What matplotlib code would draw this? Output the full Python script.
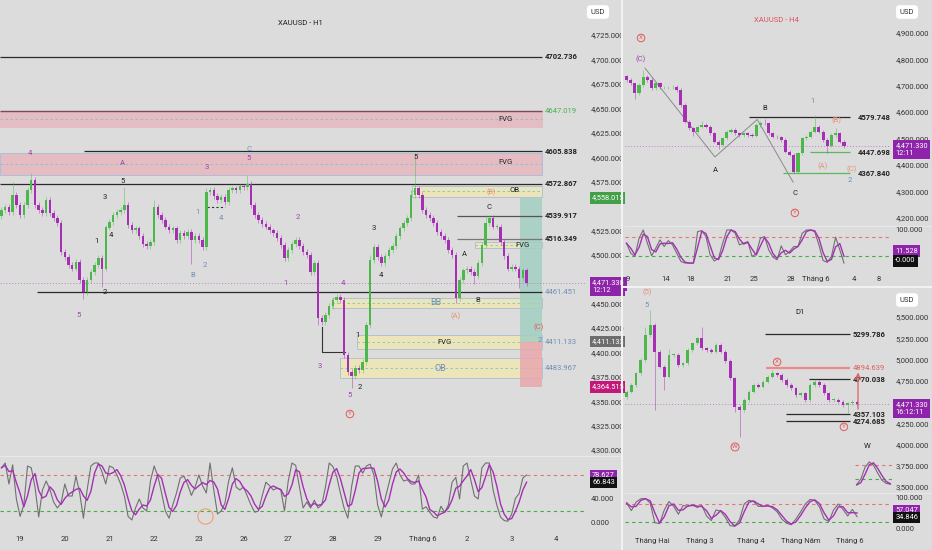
import numpy as np
import pandas as pd
import matplotlib
matplotlib.use("Agg")
import matplotlib.pyplot as plt
from matplotlib.lines import Line2D
from matplotlib.patches import Rectangle

plt.rcParams["font.family"] = ["Roboto", "DejaVu Sans"]

BG = "#dcdcdc"
UP = "#4cb84c"
DN = "#a42fb2"
PURP = "#8e24aa"
BLUEG = "#6f8fb5"
RED = "#e05a5a"
ORG = "#e8907a"

# ---------------- H1 data (2h steps) ----------------
h1_days = ["19", "20", "21", "22", "23", "26", "27", "28", "29", "Tháng 6", "2", "3", "4"]
h1_open0 = 4540
h1_close = [4546, 4549, 4544, 4561, 4551, 4541, 4551, 4566, 4577, 4551,
            4546, 4543, 4556, 4543, 4538, 4533, 4503, 4498, 4490, 4486,
            4493, 4474, 4462, 4474, 4482, 4490, 4497, 4486, 4528, 4534,
            4541, 4544, 4546, 4551, 4531, 4525, 4527, 4519, 4511, 4509,
            4513, 4549, 4541, 4536, 4529, 4525, 4527, 4515, 4522, 4519,
            4523, 4515, 4519, 4515, 4508, 4564, 4566, 4560, 4556, 4559,
            4554, 4566, 4568, 4566, 4570, 4569, 4573, 4551, 4541, 4536,
            4532, 4529, 4525, 4522, 4517, 4510, 4497, 4505, 4511, 4515,
            4509, 4503, 4500, 4482, 4492, 4435, 4431, 4438, 4448, 4454,
            4457, 4454, 4397, 4380, 4376, 4384, 4382, 4390, 4428, 4495,
            4508, 4498, 4492, 4499, 4505, 4509, 4519, 4527, 4533, 4538,
            4561, 4568, 4561, 4546, 4541, 4538, 4533, 4523, 4519, 4515,
            4505, 4500, 4456, 4474, 4484, 4486, 4482, 4478, 4492, 4510,
            4533, 4538, 4529, 4529, 4513, 4499, 4486, 4488, 4486, 4476,
            4484, 4471]
h1_high_marks = {3: 4575, 8: 4584, 33: 4569, 41: 4556, 55: 4568, 66: 4582,
                 99: 4500, 110: 4566, 111: 4604, 130: 4541}
h1_low_marks = {22: 4455, 27: 4467, 51: 4491, 85: 4428, 94: 4364, 122: 4451,
                127: 4470, 139: 4466}
h1_k = [92, 100, 65, 97, 40, 11, 30, 95, 92, 60,
        10, 55, 70, 56, 35, 25, 33, 65, 45, 45,
        78, 50, 8, 55, 95, 100, 100, 85, 65, 95,
        92, 80, 65, 45, 11, 5, 25, 40, 25, 20,
        70, 95, 78, 50, 20, 8, 30, 50, 75, 78,
        64, 46, 60, 80, 62, 50, 100, 55, 15, 20,
        33, 70, 92, 60, 55, 60, 45, 30, 18, 20,
        45, 68, 62, 55, 58, 55, 20, 70, 100, 96,
        60, 25, 35, 25, 38, 25, 30, 60, 100, 94,
        78, 50, 25, 8, 60, 95, 95, 83, 95, 98,
        80, 30, 10, 40, 65, 90, 100, 80, 70, 72,
        65, 65, 80, 23, 27, 18, 10, 8, 28, 18,
        30, 68, 76, 40, 95, 100, 72, 45, 40, 92,
        100, 100, 55, 30, 10, 4, 3, 15, 41, 49,
        75, 80]
h1_waves = [("5", 2.30, 4576, "#222"), ("3", 1.90, 4559, "#222"), ("1", 1.70, 4514, "#222"),
            ("4", 2.04, 4520, "#222"), ("2", 1.90, 4462, "#222"), ("5", 8.84, 4600, "#222"),
            ("3", 7.92, 4527, "#222"), ("4", 8.08, 4479, "#222"), ("1", 7.54, 4418, "#222"),
            ("2", 7.61, 4365, "#222"), ("A", 9.93, 4501, "#222"), ("B", 10.25, 4454, "#222"),
            ("C", 10.49, 4549, "#222"), ("2", 11.63, 4413, BLUEG),
            ("4", 0.22, 4604, "#a040b0"), ("A", 2.28, 4594, "#a040b0"), ("3", 4.18, 4590, "#a040b0"),
            ("5", 5.12, 4599, "#a040b0"), ("2", 6.22, 4539, "#a040b0"), ("1", 5.93, 4471, "#a040b0"),
            ("4", 7.23, 4471, "#a040b0"), ("3", 6.71, 4386, "#a040b0"), ("5", 7.38, 4356, "#a040b0"),
            ("5", 1.30, 4438, "#a040b0"),
            ("C", 5.12, 4608, BLUEG), ("1", 3.96, 4544, BLUEG), ("2", 4.14, 4490, BLUEG),
            ("B", 3.87, 4479, BLUEG), ("4", 4.50, 4538, BLUEG),
            ("(A)", 9.75, 4437, ORG), ("(C)", 11.61, 4426, RED)]

# ---------------- H4 data (8h steps) ----------------
h4_days = ["9", "14", "18", "21", "25", "28", "Tháng 6", "4", "8"]
h4_day_idx = [0, 3, 5, 8, 10, 13, 15, 18, 20]
h4_open0 = 4735
h4_close = [4722, 4709, 4671, 4703, 4734, 4722, 4690, 4709, 4694, 4694,
            4694, 4696, 4684, 4627, 4564, 4539, 4526, 4545, 4551, 4545,
            4520, 4488, 4476, 4501, 4526, 4532, 4520, 4513, 4520, 4513,
            4510, 4551, 4560, 4558, 4520, 4507, 4505, 4494, 4450, 4438,
            4374, 4444, 4501, 4507, 4526, 4545, 4526, 4494, 4472, 4513,
            4520, 4488, 4471]
h4_high_marks = {2: 4700, 4: 4760, 18: 4565, 33: 4575, 45: 4589, 50: 4540}
h4_low_marks = {2: 4650, 16: 4510, 22: 4462, 40: 4369, 48: 4445}
h4_k = [60, 30, 20, 75, 100, 60, 22, 45, 70, 50,
        68, 55, 30, 5, 0, 0, 0, 95, 98, 80,
        25, 6, 15, 60, 100, 100, 90, 55, 60, 65,
        20, 28, 75, 80, 40, 18, 10, 52, 25, 35,
        50, 50, 90, 100, 100, 95, 55, 8, 2, 20,
        78, 40, 0]
h4_wave_t = [1.35, 6.93, 10.3, 13.15]
h4_wave_p = [4767, 4430, 4572, 4335]

# ---------------- D1 data (2 day steps) ----------------
d1_months = ["Tháng Hai", "Tháng 3", "Tháng 4", "Tháng Năm", "Tháng 6"]
d1_month_idx = [11, 31, 53, 74, 95]
d1_open0 = 4560
d1_close = [4622, 4700, 4838, 4994, 5288, 5406, 5092, 4916, 4798, 5053,
            5053, 4936, 4955, 5112, 5190, 5249, 5132, 5112, 5092, 5171,
            5092, 4983, 4779, 4446, 4406, 4524, 4622, 4700, 4681, 4740,
            4798, 4838, 4818, 4759, 4700, 4661, 4583, 4603, 4524, 4700,
            4740, 4700, 4603, 4524, 4524, 4504, 4465, 4485, 4504, 4471]
d1_high_marks = {4: 5380, 5: 5580, 9: 5120, 16: 5387, 31: 4877, 40: 4770}
d1_low_marks = {6: 4406, 8: 4640, 23: 4380, 24: 4093, 47: 4367}
d1_k = [83, 58, 86, 97, 98, 83, 18, 15, 60, 88,
        72, 46, 75, 72, 78, 68, 75, 40, 25, 60,
        56, 35, 8, 6, 28, 80, 92, 88, 72, 72,
        75, 67, 54, 30, 16, 11, 30, 54, 80, 95,
        92, 70, 30, 22, 60, 80, 62, 40, 62, 38]
w_k = [-3, 20, 70, 92, 78, 45, 15, 2, -2]
w_d = [-5, 5, 40, 80, 88, 65, 35, 10, 0]

last_price = 4471.33


def px_axes(fig, x0, y0, x1, y1):
    return fig.add_axes([x0 / 932, 1 - y1 / 550, (x1 - x0) / 932, (y1 - y0) / 550])


def style(ax):
    ax.set_facecolor(BG)
    for s in ax.spines.values():
        s.set_visible(False)
    ax.yaxis.tick_right()
    ax.tick_params(length=0, labelsize=5.5, colors="#333333", pad=4)


def ohlc(open0, close, wick, hi_marks, lo_marks):
    close = np.asarray(close, float)
    opn = np.r_[open0, close[:-1]]
    hi = np.maximum(opn, close) + wick
    lo = np.minimum(opn, close) - wick
    for i, v in hi_marks.items():
        hi[i] = v
    for i, v in lo_marks.items():
        lo[i] = v
    return opn, close, hi, lo


def draw_candles(ax, t, opn, close, hi, lo, width, body_min):
    col = np.where(close >= opn, UP, DN)
    ax.vlines(t, lo, hi, colors=col, lw=0.6, alpha=0.55, zorder=3)
    ax.bar(t, np.maximum(np.abs(close - opn), body_min), bottom=np.minimum(opn, close),
           width=width, color=col, linewidth=0, zorder=4)


def stoch(ax, t, k, smooth):
    d = pd.Series(k, dtype=float).rolling(smooth, min_periods=1).mean()
    ax.axhline(80, color="#e57373", ls=(0, (3, 3)), lw=0.8, zorder=1)
    ax.axhline(20, color="#3fae3f", ls=(0, (3, 3)), lw=0.8, zorder=1)
    ax.plot(t, k, color="#707070", lw=0.8, zorder=2)
    ax.plot(t, d, color="#a52fb5", lw=1.0, zorder=3)


def tag(ax, y, text, fc, tc="white", x=1.012):
    # first line sits on the price, a second line (timer) hangs below it
    ax.annotate(text, xy=(x, y), xycoords=ax.get_yaxis_transform(), xytext=(0, 2.6),
                textcoords="offset points", ha="left", va="top", fontsize=5.3, color=tc,
                zorder=20, annotation_clip=False, linespacing=1.15,
                bbox=dict(boxstyle="square,pad=0.3", fc=fc, ec="none"))


def level(ax, x0, x1, y, text=None, off=0.07, color="#2a2a2a", tcolor="#222222", lw=0.9):
    ax.hlines(y, x0, x1, colors=color, lw=lw, zorder=2)
    if text:
        ax.text(x1 + off, y, text, fontsize=5.5, color=tcolor, va="center", ha="left",
                fontweight="bold" if tcolor == "#222222" else "normal")


def zone(ax, x0, x1, lo, hi, fc, ec="#a9bcd9", mid=True):
    ax.add_patch(Rectangle((x0, lo), x1 - x0, hi - lo, fc=fc, ec=ec, lw=0.6, zorder=1))
    if mid:
        ax.hlines((lo + hi) / 2, x0, x1, colors="#7cc4cc", linestyles=(0, (3, 3)), lw=0.6, zorder=1)


def circled(ax, x, y, s, color=RED):
    ax.text(x, y, s, color=color, fontsize=4.5, ha="center", va="center", zorder=6,
            bbox=dict(boxstyle="circle,pad=0.2", fc="none", ec=color, lw=0.7))


def fmt(ax, ticks):
    ax.set_yticks(ticks)
    ax.set_yticklabels([f"{v:,.3f}" for v in ticks])


fig = plt.figure(figsize=(9.32, 5.5), dpi=100)
fig.patch.set_facecolor(BG)

# ================= H1 panel =================
h1 = px_axes(fig, 0, 0, 585, 455)
h1o = px_axes(fig, 0, 457, 585, 530)
for a in (h1, h1o):
    style(a)
    a.set_xlim(-0.45, 12.64)
h1.set_ylim(4295, 4761)
h1o.set_ylim(-11.7, 110)
h1.set_xticks([])
# labels hidden behind the price tags are left out
fmt(h1, [v for v in range(4300, 4726, 25) if v not in (4475, 4550)])
h1o.set_yticks([0, 40])
h1o.set_yticklabels(["0.000", "40.000"])
h1o.set_xticks(range(len(h1_days)))
h1o.set_xticklabels(h1_days)

h1_t = np.arange(len(h1_close)) / 12 - 0.417
R = 11.68
zone(h1, -0.45, R, 4631, 4647.019, "#e4bcc2", ec="#e4bcc2")
h1.hlines(4647.019, -0.45, R, colors="#7a4a58", lw=1.0, zorder=2)
zone(h1, -0.45, R, 4582, 4604, "#e4bcc2")
zone(h1, 8.77, R, 4559, 4571, "#ebe5b9")
zone(h1, 10.18, R, 4507, 4513, "#ebe5b9")
zone(h1, 6.99, R, 4446, 4456, "#ebe5b9")
zone(h1, 7.54, R, 4404, 4418, "#ebe5b9")
zone(h1, 7.16, R, 4374, 4394, "#ebe5b9")
h1.add_patch(Rectangle((11.19, 4411), R - 11.19, 4558 - 4411, fc="#a3cfc2", ec="none", alpha=0.85, zorder=1.5))
h1.add_patch(Rectangle((11.19, 4364.5), R - 11.19, 4411 - 4364.5, fc="#e8a7ad", ec="none", alpha=0.85, zorder=1.5))
level(h1, -0.45, R, 4702.736, "4702.736")
h1.text(R + 0.07, 4647.019, "4647.019", fontsize=5.5, color="#4caf50", va="center")
level(h1, 1.43, R, 4605.838, "4605.838")
level(h1, -0.45, R, 4572.867, "4572.867")
level(h1, 9.78, R, 4539.917, "4539.917", color="#555555")
level(h1, 9.78, R, 4516.349, "4516.349", color="#777777")
level(h1, 0.38, R, 4461.451, "4461.451", tcolor=BLUEG)
h1.text(R + 0.07, 4411.133, "4411.133", fontsize=5.5, color=BLUEG, va="center")
h1.text(R + 0.07, 4384, "4483.967", fontsize=5.5, color=BLUEG, va="center")
h1.plot([6.76, 6.76, 7.27], [4426, 4400, 4400], color="#333333", lw=0.8, zorder=2)
h1.plot([4.18, 4.59], [4549, 4549], color="#333333", lw=0.8, ls=(0, (2, 2)), zorder=2)
h1.axhline(last_price, color="#c080c8", ls=(0, (1, 2)), lw=0.7, zorder=2)

for s, x, y in [("FVG", 10.85, 4639), ("FVG", 10.85, 4595), ("OB", 11.07, 4566),
                ("FVG", 11.25, 4510), ("FVG", 9.49, 4411)]:
    h1.text(x, y, s, fontsize=5.5, color="#222", ha="center", va="center", zorder=6)
for s, x, y in [("BB", 9.31, 4451), ("OB", 9.40, 4384)]:
    h1.text(x, y, s, fontsize=6.5, color=BLUEG, ha="center", va="center", zorder=6)
h1.text(10.54, 4564, "(B)", fontsize=5, color=ORG, ha="center", va="center", zorder=6)

o, c, hi, lo = ohlc(h1_open0, h1_close, 3.0, h1_high_marks, h1_low_marks)
draw_candles(h1, h1_t, o, c, hi, lo, 0.055, 0.6)
for s, x, y, col in h1_waves:
    h1.text(x, y, s, fontsize=5.5, color=col, ha="center", va="center", zorder=6)
circled(h1, 7.38, 4337, "Y")
h1.text(0.513, 0.945, "XAUUSD - H1", transform=h1.transAxes, fontsize=5.5, color="#222", ha="center")

tag(h1, 4558.015, "4,558.015", "#43a047")
tag(h1, last_price, "4,471.330\n12:12", PURP)
tag(h1, 4411.133, "4,411.133", "#6d6d6d")
tag(h1, 4364.515, "4,364.515", "#c2187a")

stoch(h1o, h1_t, h1_k, 3)
h1o.plot([4.14], [11.7], "o", ms=11, mfc="none", mec="#f0a070", mew=0.8)
tag(h1o, 78.627, "78.627", PURP)
tag(h1o, 66.843, "66.843", "#111111")

# ================= H4 panel =================
h4 = px_axes(fig, 625, 0, 890, 225)
h4o = px_axes(fig, 625, 227, 890, 270)
for a in (h4, h4o):
    style(a)
    a.set_xlim(-0.24, 20.88)
h4.set_ylim(4172, 5025)
h4o.set_ylim(-21, 109)
h4.set_xticks([])
fmt(h4, list(range(4200, 4901, 100)))
h4o.set_yticks([100])
h4o.set_yticklabels(["100.000"])
h4o.set_xticks(h4_day_idx)
h4o.set_xticklabels(h4_days)

h4_t = np.arange(len(h4_close)) / 3 - 0.12
h4.axhline(last_price, color="#c080c8", ls=(0, (1, 2)), lw=0.7, zorder=2)
h4.plot(h4_wave_t, h4_wave_p, color="#8a8a8a", lw=0.7, zorder=2)
level(h4, 9.64, 17.7, 4579.748, "4579.748", off=0.65)
level(h4, 14.5, 17.7, 4447.698, "4447.698", off=0.65, color="#5cb85c")
level(h4, 12.35, 17.7, 4367.840, "4367.840", off=0.65, color="#5cb85c")
o, c, hi, lo = ohlc(h4_open0, h4_close, 6.0, h4_high_marks, h4_low_marks)
draw_candles(h4, h4_t, o, c, hi, lo, 0.25, 2.0)
for s, x, y, col in [("(C)", 1.04, 4801, "#a040b0"), ("B", 10.9, 4616, "#222"),
                     ("A", 7.0, 4381, "#222"), ("C", 13.3, 4294, "#222"),
                     ("1", 14.7, 4642, BLUEG), ("(B)", 16.6, 4570, ORG),
                     ("(A)", 15.5, 4396, ORG), ("(C)", 17.8, 4385, ORG), ("2", 17.7, 4343, BLUEG)]:
    h4.text(x, y, s, fontsize=5.5, color=col, ha="center", va="center", zorder=6)
circled(h4, 1.04, 4881, "X")
circled(h4, 13.3, 4218, "Y")
h4.text(0.57, 0.9, "XAUUSD - H4", transform=h4.transAxes, fontsize=5.5, color="#e05060", ha="center")
tag(h4, last_price, "4,471.330\n12:11", PURP, x=1.02)

stoch(h4o, h4_t, h4_k, 2)
tag(h4o, 36, "11.528", PURP, x=1.02)
tag(h4o, 6, "-0.000", "#111111", x=1.02)

# ================= D1 panel =================
d1 = px_axes(fig, 625, 291, 890, 492)
d1o = px_axes(fig, 625, 494, 890, 532)
for a in (d1, d1o):
    style(a)
    a.set_xlim(-0.7, 112)
d1.set_ylim(3441, 5806)
d1o.set_ylim(-13, 113)
d1.set_xticks([])
fmt(d1, [v for v in range(3500, 5501, 250) if v != 4500])
d1o.set_yticks([0, 100])
d1o.set_yticklabels(["0.000", "100.000"])
d1o.set_xticks(d1_month_idx)
d1o.set_xticklabels(d1_months)

d1_t = np.arange(len(d1_close)) * 2
d1.axhline(last_price, color="#c080c8", ls=(0, (1, 2)), lw=0.7, zorder=2)
level(d1, 58.9, 95, 5299.786, "5299.786", off=1.3)
level(d1, 59.3, 95, 4894.639, "4894.639", off=1.3, color="#ea8a8a", tcolor="#e06060", lw=1.6)
level(d1, 77.7, 95, 4770.038, "4770.038", off=1.3)
level(d1, 67.8, 95, 4357.103, "4357.103", off=1.3)
level(d1, 67.8, 95, 4274.685, "4274.685", off=1.3)
o, c, hi, lo = ohlc(d1_open0, d1_close, 20.0, d1_high_marks, d1_low_marks)
draw_candles(d1, d1_t, o, c, hi, lo, 1.2, 6.0)
d1.annotate("", xy=(98.4, 4880), xytext=(98.4, 4383),
            arrowprops=dict(arrowstyle="->", color="#e06060", lw=0.9))
d1.text(8.65, 5794, "(5)", fontsize=5.5, color=ORG, ha="center", va="center")
d1.text(8.65, 5641, "5", fontsize=5.5, color=BLUEG, ha="center", va="center")
circled(d1, 64, 4971, "X")
circled(d1, 46.1, 3971, "W")
circled(d1, 92.4, 4207, "Y")
d1.text(0.66, 0.886, "D1", transform=d1.transAxes, fontsize=5.5, color="#222", ha="center")
d1.text(0.915, 0.22, "W", transform=d1.transAxes, fontsize=5.5, color="#222", ha="center")
tag(d1, last_price, "4,471.330\n16:12:11", PURP, x=1.02)

stoch(d1o, d1_t, d1_k, 2)
tag(d1o, 57.047, "57.047", PURP, x=1.02)
tag(d1o, 34.846, "34.846", "#111111", x=1.02)

# weekly mini inset
wi = px_axes(fig, 855, 460, 892, 489)
wi.set_facecolor("none")
for s in wi.spines.values():
    s.set_visible(False)
wi.set_xticks([])
wi.set_yticks([])
wi.set_ylim(-22, 100)
wi.axhline(80, color="#e57373", ls=(0, (3, 3)), lw=0.8)
wi.axhline(20, color="#3fae3f", ls=(0, (3, 3)), lw=0.8)
wi.plot(range(len(w_k)), w_k, color="#707070", lw=0.8)
wi.plot(range(len(w_d)), w_d, color="#a52fb5", lw=1.0)

# separators and USD boxes
fig.add_artist(Line2D([622 / 932] * 2, [0, 1], color="#f2f2f2", lw=1.5))
fig.add_artist(Line2D([622 / 932, 1], [1 - 287 / 550] * 2, color="#f2f2f2", lw=1.5))
for x0, x1, y in [(0, 620, 456), (625, 932, 226), (625, 932, 493)]:
    fig.add_artist(Line2D([x0 / 932, x1 / 932], [1 - y / 550] * 2, color="#e8e8e8", lw=0.8))
for x, y in [(598, 12), (907, 12), (907, 300)]:
    fig.text(x / 932, 1 - y / 550, "USD", fontsize=5.5, color="#333", ha="center", va="center",
             bbox=dict(boxstyle="round,pad=0.5", fc="white", ec="none"))

fig.savefig("out.png", dpi=100, facecolor=BG)
